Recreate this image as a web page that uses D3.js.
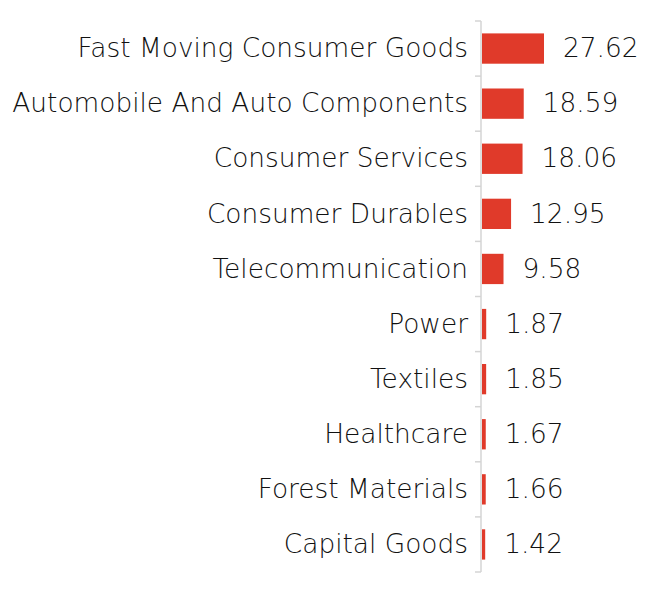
<!DOCTYPE html>
<html>
<head>
<meta charset="utf-8">
<script src="https://cdn.jsdelivr.net/npm/d3@7"></script>
<style>
  body { margin: 0; background: #fff; }
  text { font-family: "DejaVu Sans", sans-serif; font-weight: 300; fill: #111; }
</style>
</head>
<body>
<svg id="chart" width="665" height="594"></svg>
<script>
// sector weights, top to bottom
var sectors = ["Fast Moving Consumer Goods", "Automobile And Auto Components", "Consumer Services",
	"Consumer Durables", "Telecommunication", "Power", "Textiles", "Healthcare",
	"Forest Materials", "Capital Goods"];
var weights = [27.62, 18.59, 18.06, 12.95, 9.58, 1.87, 1.85, 1.67, 1.66, 1.42];

var margin = { top: 21, left: 481, bottom: 22 };
var fontSize = 26.4;

var svg = d3.select("#chart");
var height = +svg.attr("height");

var y = d3.scaleBand()
	.domain(sectors)
	.range([margin.top, height - margin.bottom])
	.paddingInner(0.45)
	.paddingOuter(0.225);

var x = d3.scaleLinear()
	.domain([0, 27.62])
	.range([margin.left, margin.left + 62]);

var rows = sectors.map(function(s, i) { return { name: s, value: weights[i] }; });

// axis line with ticks between categories
var axisG = svg.append("g");
axisG.append("line")
	.attr("x1", margin.left).attr("x2", margin.left)
	.attr("y1", margin.top).attr("y2", height - margin.bottom)
	.attr("stroke", "#d4d4d4").attr("stroke-width", 1.5);

var step = y.step();
var bounds = d3.range(sectors.length + 1).map(function(i) { return margin.top + i * step; });
axisG.selectAll(".tick").data(bounds).enter().append("line")
	.attr("x1", margin.left - 6).attr("x2", margin.left)
	.attr("y1", function(d) { return d; }).attr("y2", function(d) { return d; })
	.attr("stroke", "#d4d4d4").attr("stroke-width", 1.5);

svg.selectAll(".bar").data(rows).enter().append("rect")
	.attr("x", margin.left + 1)
	.attr("y", function(d) { return y(d.name); })
	.attr("width", function(d) { return x(d.value) - margin.left; })
	.attr("height", y.bandwidth())
	.attr("fill", "#e03a2a");

svg.selectAll(".label").data(rows).enter().append("text")
	.attr("x", margin.left - 13)
	.attr("y", function(d) { return y(d.name) + y.bandwidth() / 2; })
	.attr("dy", "0.33em")
	.attr("text-anchor", "end")
	.style("font-size", fontSize + "px")
	.text(function(d) { return d.name; });

svg.selectAll(".value").data(rows).enter().append("text")
	.attr("x", function(d) { return x(d.value) + 20; })
	.attr("y", function(d) { return y(d.name) + y.bandwidth() / 2; })
	.attr("dy", "0.33em")
	.style("font-size", fontSize + "px")
	.text(function(d) { return d3.format(".2f")(d.value); });
</script>
</body>
</html>
